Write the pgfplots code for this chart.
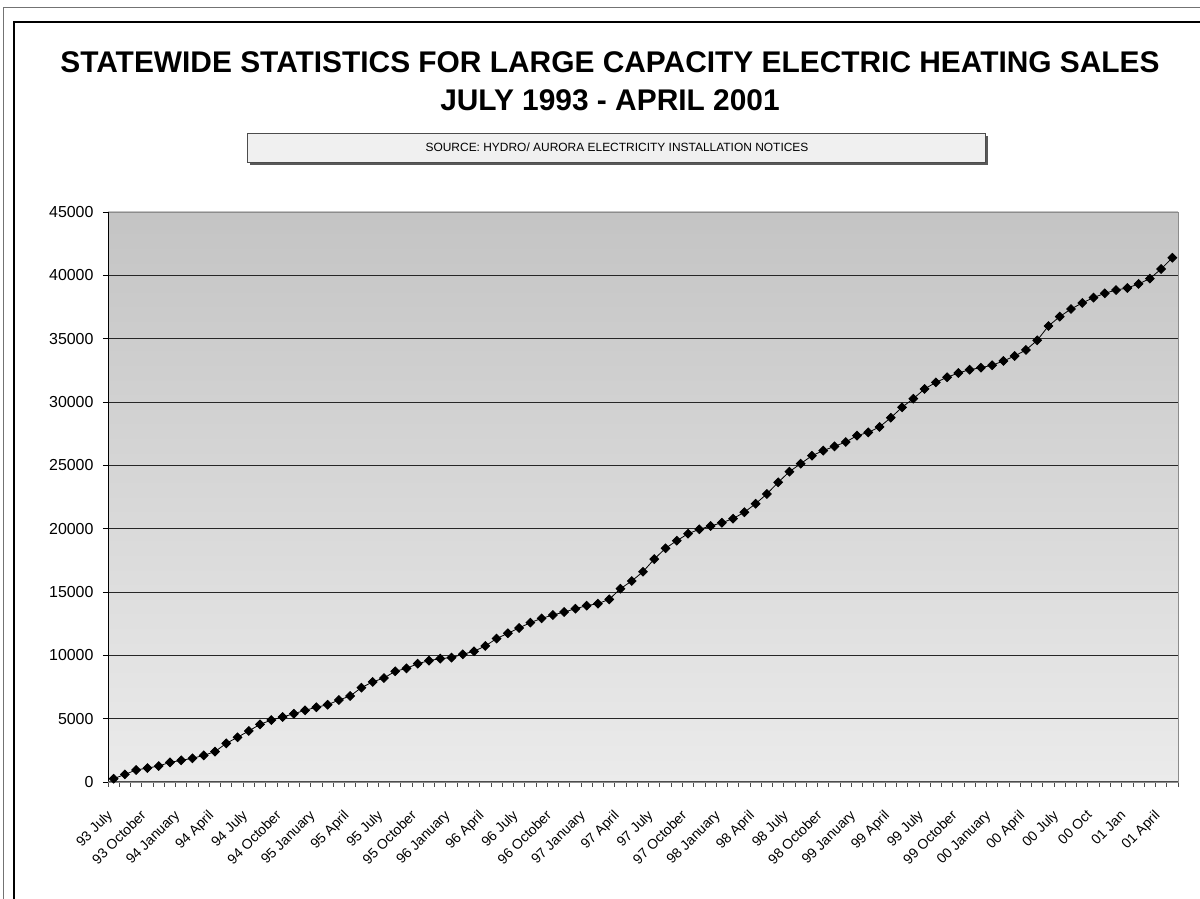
\documentclass[border=0pt]{standalone}
\usepackage{fontspec}
\setmainfont{Liberation Sans}
\usepackage{pgfplots}
\pgfplotsset{compat=1.18}
\definecolor{bgtop}{RGB}{196,196,196}
\definecolor{bgbot}{RGB}{235,235,235}
\definecolor{boxfill}{RGB}{240,240,240}
\begin{document}
\begin{tikzpicture}
\path[use as bounding box] (0bp,0bp) rectangle (1200bp,899bp);
% outer frames
\draw[black!55, line width=1bp] (3bp,0bp) -- (3bp,891bp) -- (1200bp,891bp);
\draw[black, line width=2bp] (14bp,0bp) -- (14bp,877bp) -- (1200bp,877bp);
% title
\node[font=\bfseries\fontsize{30}{35}\selectfont] at (610bp,837bp) {STATEWIDE STATISTICS FOR LARGE CAPACITY ELECTRIC HEATING SALES};
\node[font=\bfseries\fontsize{30}{35}\selectfont] at (610bp,799bp) {JULY 1993 - APRIL 2001};
% source box
\fill[black!65] (250bp,734bp) rectangle (988bp,763bp);
\filldraw[fill=boxfill, draw=black!70, line width=0.8bp] (247bp,737bp) rectangle (985bp,766bp);
\node[font=\fontsize{12}{14}\selectfont] at (617bp,751.5bp) {SOURCE: HYDRO/ AURORA ELECTRICITY INSTALLATION NOTICES};
\begin{axis}[
  at={(108bp,117bp)}, anchor=south west,
  scale only axis, width=1070bp, height=570bp,
  xmin=-0.5, xmax=94.5, ymin=0, ymax=45000,
  axis background/.style={top color=bgtop, bottom color=bgbot},
  axis line style={draw=black!45, line width=0.8bp},
  ymajorgrids, major grid style={black!85, line width=0.8bp},
  tick align=outside, tick pos=left,
  major tick length=5bp, minor tick length=5bp,
  ytick={0,5000,...,45000},
  scaled y ticks=false,
  yticklabel style={font=\fontsize{16}{18}\selectfont, xshift=-6bp, /pgf/number format/.cd, fixed, precision=0, 1000 sep={}, assume math mode=true},
  major y tick style={black, line width=0.8bp},
  xtick={0,3,...,93},
  xticklabels={93 July, 93 October, 94 January, 94 April, 94 July, 94 October, 95 January, 95 April, 95 July, 95 October, 96 January, 96 April, 96 July, 96 October, 97 January, 97 April, 97 July, 97 October, 98 January, 98 April, 98 July, 98 October, 99 January, 99 April, 99 July, 99 October, 00 January, 00 April, 00 July, 00 Oct, 01 Jan, 01 April},
  xticklabel style={rotate=45, anchor=north east, font=\fontsize{14}{16}\selectfont, inner sep=1bp, xshift=-20bp, yshift=-9bp},
  major x tick style={draw=none},
  minor xtick={-0.5,0.5,...,94.5},
  every minor tick/.append style={black!70, line width=0.8bp},
  clip=false,
]
\addplot[black, line width=0.8bp, mark=square*, mark size=3.1bp, mark options={fill=black, draw=black, rotate=45}] coordinates {
(0,260) (1,600) (2,950) (3,1100) (4,1260) (5,1550) (6,1710) (7,1870) (8,2100) (9,2400)
(10,3050) (11,3530) (12,4030) (13,4550) (14,4890) (15,5130) (16,5390) (17,5660) (18,5900) (19,6100)
(20,6470) (21,6790) (22,7450) (23,7900) (24,8210) (25,8740) (26,8970) (27,9340) (28,9580) (29,9740)
(30,9820) (31,10080) (32,10320) (33,10740) (34,11320) (35,11740) (36,12160) (37,12580) (38,12920) (39,13180)
(40,13420) (41,13680) (42,13920) (43,14080) (44,14420) (45,15260) (46,15870) (47,16600) (48,17600) (49,18450)
(50,19050) (51,19600) (52,19950) (53,20210) (54,20470) (55,20790) (56,21300) (57,21970) (58,22740) (59,23660)
(60,24500) (61,25130) (62,25760) (63,26160) (64,26500) (65,26840) (66,27340) (67,27600) (68,28030) (69,28760)
(70,29580) (71,30260) (72,31030) (73,31550) (74,31950) (75,32290) (76,32550) (77,32710) (78,32900) (79,33240)
(80,33630) (81,34110) (82,34870) (83,36000) (84,36740) (85,37340) (86,37820) (87,38240) (88,38580) (89,38840)
(90,39000) (91,39320) (92,39740) (93,40500) (94,41390)
};
\draw[black, line width=1bp] (axis cs:-0.5,0) -- (axis cs:-0.5,45000);
\draw[black!70, line width=1bp] (axis cs:-0.5,0) -- (axis cs:94.5,0);
\end{axis}
\end{tikzpicture}
\end{document}
